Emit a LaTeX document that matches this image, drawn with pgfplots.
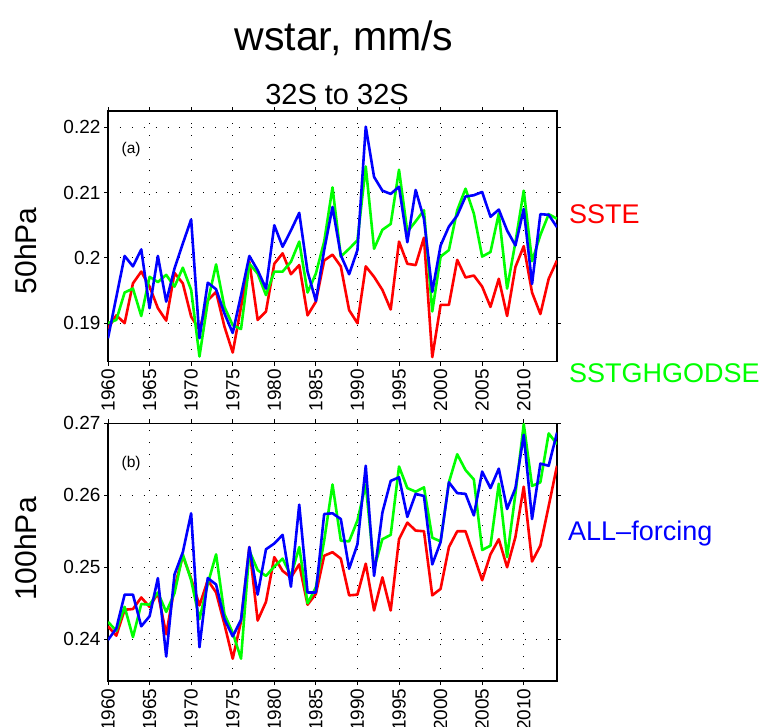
\documentclass[border=0pt]{standalone}
\usepackage{pgfplots}
\pgfplotsset{compat=1.18}
\usepackage{pgfplotstable}
\usepackage{fontspec}
\setmainfont{Liberation Sans}

% 50 hPa
\pgfplotstableread{
year sste ghg all
1960 0.1892 0.1900 0.1877
1961 0.1912 0.1905 0.1940
1962 0.1900 0.1947 0.2003
1963 0.1961 0.1953 0.1987
1964 0.1979 0.1911 0.2013
1965 0.1956 0.1971 0.1923
1966 0.1923 0.1963 0.2003
1967 0.1904 0.1974 0.1933
1968 0.1977 0.1956 0.1984
1969 0.1961 0.1985 0.2022
1970 0.1910 0.1951 0.2059
1971 0.1890 0.1849 0.1877
1972 0.1935 0.1933 0.1962
1973 0.1948 0.1990 0.1952
1974 0.1895 0.1925 0.1915
1975 0.1855 0.1897 0.1885
1976 0.1925 0.1891 0.1943
1977 0.1994 0.1991 0.2003
1978 0.1905 0.1976 0.1981
1979 0.1918 0.1943 0.1953
1980 0.1991 0.1979 0.2050
1981 0.2007 0.1979 0.2017
1982 0.1975 0.1994 0.2042
1983 0.1989 0.2025 0.2069
1984 0.1912 0.1947 0.1979
1985 0.1933 0.1976 0.1934
1986 0.1996 0.2025 0.2012
1987 0.2005 0.2108 0.2078
1988 0.1987 0.2002 0.2004
1989 0.1920 0.2014 0.1975
1990 0.1900 0.2027 0.2012
1991 0.1987 0.2140 0.2201
1992 0.1971 0.2014 0.2124
1993 0.1951 0.2043 0.2103
1994 0.1921 0.2052 0.2098
1995 0.2025 0.2135 0.2109
1996 0.1991 0.2040 0.2024
1997 0.1989 0.2056 0.2104
1998 0.2031 0.2073 0.2060
1999 0.1848 0.1918 0.1948
2000 0.1928 0.2002 0.2019
2001 0.1928 0.2012 0.2048
2002 0.1997 0.2073 0.2065
2003 0.1970 0.2106 0.2094
2004 0.1973 0.2068 0.2096
2005 0.1956 0.2002 0.2101
2006 0.1925 0.2009 0.2063
2007 0.1968 0.2068 0.2074
2008 0.1911 0.1953 0.2042
2009 0.1986 0.2024 0.2019
2010 0.2018 0.2103 0.2075
2011 0.1947 0.1995 0.1960
2012 0.1914 0.2035 0.2067
2013 0.1968 0.2067 0.2066
2014 0.1996 0.2060 0.2047
}\tabA

% 100 hPa
\pgfplotstableread{
year sste ghg all
1960 0.2418 0.2424 0.2399
1961 0.2405 0.2412 0.2415
1962 0.2441 0.2445 0.2462
1963 0.2442 0.2403 0.2462
1964 0.2458 0.2449 0.2418
1965 0.2445 0.2448 0.2432
1966 0.2464 0.2465 0.2485
1967 0.2407 0.2438 0.2376
1968 0.2472 0.2464 0.2490
1969 0.2516 0.2518 0.2521
1970 0.2484 0.2482 0.2575
1971 0.2447 0.2428 0.2389
1972 0.2482 0.2477 0.2485
1973 0.2465 0.2518 0.2476
1974 0.2421 0.2435 0.2428
1975 0.2373 0.2409 0.2404
1976 0.2425 0.2373 0.2427
1977 0.2528 0.2523 0.2528
1978 0.2426 0.2496 0.2462
1979 0.2452 0.2488 0.2525
1980 0.2514 0.2501 0.2533
1981 0.2495 0.2512 0.2545
1982 0.2486 0.2488 0.2473
1983 0.2504 0.2528 0.2587
1984 0.2448 0.2450 0.2465
1985 0.2463 0.2472 0.2465
1986 0.2516 0.2537 0.2574
1987 0.2521 0.2615 0.2575
1988 0.2512 0.2537 0.2567
1989 0.2461 0.2536 0.2498
1990 0.2462 0.2565 0.2532
1991 0.2505 0.2615 0.2641
1992 0.2440 0.2498 0.2488
1993 0.2486 0.2539 0.2576
1994 0.2440 0.2545 0.2620
1995 0.2539 0.2640 0.2625
1996 0.2562 0.2610 0.2570
1997 0.2551 0.2605 0.2602
1998 0.2550 0.2611 0.2599
1999 0.2461 0.2541 0.2504
2000 0.2470 0.2536 0.2535
2001 0.2528 0.2618 0.2618
2002 0.2550 0.2657 0.2603
2003 0.2550 0.2635 0.2602
2004 0.2516 0.2622 0.2572
2005 0.2482 0.2524 0.2633
2006 0.2518 0.2530 0.2610
2007 0.2539 0.2616 0.2637
2008 0.2500 0.2514 0.2581
2009 0.2542 0.2602 0.2610
2010 0.2612 0.2699 0.2684
2011 0.2508 0.2613 0.2567
2012 0.2530 0.2618 0.2644
2013 0.2585 0.2686 0.2641
2014 0.2641 0.2671 0.2687
}\tabB

\pgfplotsset{
  panel/.style={
    scale only axis,
    anchor=south west,
    width=449pt,
    xmin=1960, xmax=2014,
    xtick={1960,1965,...,2010},
    xticklabels={1960,1965,1970,1975,1980,1985,1990,1995,2000,2005,2010},
    tick align=outside,
    major tick length=4pt,
    axis line style={line width=1.2pt},
    tick style={black, line width=1pt},
    grid=major,
    grid style={black, line width=0.9pt, dash pattern=on 0.9pt off 11pt},
    ticklabel style={font=\fontsize{19}{19}\selectfont},
    xticklabel style={rotate=90, anchor=east},
    every axis plot/.append style={line width=2.6pt, line join=round},
  },
}

\begin{document}
\begin{tikzpicture}
\useasboundingbox (0pt,0pt) rectangle (765pt,-726pt);

\begin{axis}[panel, at={(108pt,-361.7pt)}, height=250.7pt,
  ymin=0.1841, ymax=0.2225,
  ytick={0.19,0.2,0.21,0.22}, yticklabels={0.19,0.2,0.21,0.22}]
  \addplot[red] table[x=year, y=sste] {\tabA};
  \addplot[green] table[x=year, y=ghg] {\tabA};
  \addplot[blue] table[x=year, y=all] {\tabA};
\end{axis}

\begin{axis}[panel, at={(108pt,-681pt)}, height=257.7pt,
  ymin=0.2342, ymax=0.27,
  ytick={0.24,0.25,0.26,0.27}, yticklabels={0.24,0.25,0.26,0.27}]
  \addplot[red] table[x=year, y=sste] {\tabB};
  \addplot[green] table[x=year, y=ghg] {\tabB};
  \addplot[blue] table[x=year, y=all] {\tabB};
\end{axis}

% titles
\node[anchor=base, font=\fontsize{41}{41}\selectfont] at (344pt,-50pt) {wstar, mm/s};
\node[anchor=base, font=\fontsize{29}{29}\selectfont] at (337pt,-104pt) {32S to 32S};

% level labels
\node[anchor=base, rotate=90, font=\fontsize{30}{30}\selectfont] at (36.7pt,-250.7pt) {50hPa};
\node[anchor=base, rotate=90, font=\fontsize{30}{30}\selectfont] at (36.7pt,-549pt) {100hPa};

% panel tags
\node[anchor=base west, inner sep=0pt, font=\fontsize{15.5}{15.5}\selectfont] at (121.5pt,-153pt) {(a)};
\node[anchor=base west, inner sep=0pt, font=\fontsize{15.5}{15.5}\selectfont] at (121.5pt,-467pt) {(b)};

% experiment names
\node[anchor=base west, inner sep=0pt, text=red, font=\fontsize{27}{27}\selectfont] at (569pt,-223.3pt) {SSTE};
\node[anchor=base west, inner sep=0pt, text=green, font=\fontsize{27}{27}\selectfont] at (569pt,-382.3pt) {SSTGHGODSE};
\node[anchor=base west, inner sep=0pt, text=blue, font=\fontsize{27}{27}\selectfont] at (568pt,-540.5pt) {ALL–forcing};
\end{tikzpicture}
\end{document}
